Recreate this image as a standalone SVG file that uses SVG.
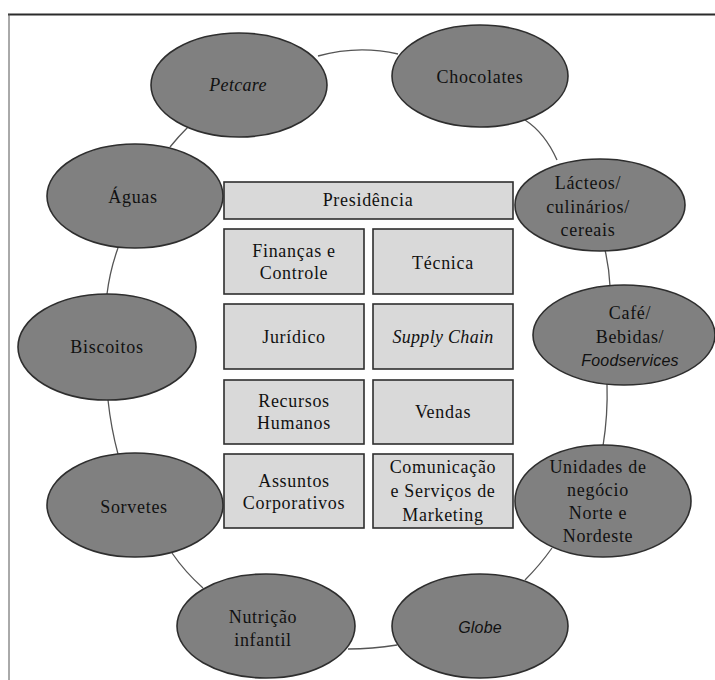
<svg xmlns="http://www.w3.org/2000/svg" width="715" height="680" viewBox="0 0 715 680">
  <style>
    .unit ellipse { fill: #808080; stroke: #2e2e2e; stroke-width: 1.6; }
    .dept rect { fill: #d9d9d9; stroke: #2e2e2e; stroke-width: 1.6; }
    text { font-family: "Liberation Serif", "Times New Roman", serif; font-size: 18px; letter-spacing: 0.7px; fill: #111; text-anchor: middle; }
    .it { font-style: italic; letter-spacing: 0.3px; }
    .sans { font-family: "Liberation Sans", Arial, sans-serif; font-size: 16px; letter-spacing: 0.2px; }
    #connectors path { fill: none; stroke: #555; stroke-width: 1.3; }
  </style>

  <rect width="715" height="680" fill="#ffffff"/>
  <!-- frame -->
  <line x1="8" y1="14.5" x2="715" y2="14.5" stroke="#2b2b2b" stroke-width="2"/>
  <line x1="9" y1="14" x2="9" y2="680" stroke="#555" stroke-width="1"/>

  <g id="connectors">
    <path d="M318,56 Q358,45 398,54"/>
    <path d="M525,120 Q545,133 557,160"/>
    <path d="M605,250 Q609,267 610,286"/>
    <path d="M607,384 Q608,415 603,446"/>
    <path d="M552,548 Q540,565 525,580"/>
    <path d="M397,645 Q372,649 348,649"/>
    <path d="M203,588 Q185,572 172,553"/>
    <path d="M118,454 Q111,428 108,400"/>
    <path d="M107,294 Q110,270 118,248"/>
    <path d="M170,147 Q178,137 188,127"/>
  </g>

  <!-- business units around the ring -->
  <g id="petcare" class="unit">
    <ellipse cx="239" cy="85" rx="88" ry="52"/>
    <text class="it" x="238" y="91">Petcare</text>
  </g>
  <g id="chocolates" class="unit">
    <ellipse cx="480" cy="76" rx="88" ry="51"/>
    <text x="480" y="83">Chocolates</text>
  </g>
  <g id="lacteos" class="unit">
    <ellipse cx="600" cy="205" rx="85" ry="46"/>
    <text x="588" y="189">Lácteos/</text>
    <text x="588" y="213">culinários/</text>
    <text x="588" y="236">cereais</text>
  </g>
  <g id="cafe" class="unit">
    <ellipse cx="624" cy="335" rx="91" ry="50"/>
    <text x="630" y="319">Café/</text>
    <text x="630" y="343">Bebidas/</text>
    <text class="it sans" x="630" y="366">Foodservices</text>
  </g>
  <g id="unidades" class="unit">
    <ellipse cx="603" cy="501" rx="88" ry="56"/>
    <text x="598" y="473">Unidades de</text>
    <text x="598" y="496">negócio</text>
    <text x="598" y="519">Norte e</text>
    <text x="598" y="542">Nordeste</text>
  </g>
  <g id="globe" class="unit">
    <ellipse cx="480" cy="626" rx="88" ry="52"/>
    <text class="it sans" x="480" y="633">Globe</text>
  </g>
  <g id="nutricao" class="unit">
    <ellipse cx="266" cy="626" rx="89" ry="52"/>
    <text x="263" y="623">Nutrição</text>
    <text x="263" y="646">infantil</text>
  </g>
  <g id="sorvetes" class="unit">
    <ellipse cx="135" cy="505" rx="88" ry="52"/>
    <text x="134" y="513">Sorvetes</text>
  </g>
  <g id="biscoitos" class="unit">
    <ellipse cx="107" cy="347" rx="89" ry="53"/>
    <text x="107" y="353">Biscoitos</text>
  </g>
  <g id="aguas" class="unit">
    <ellipse cx="135" cy="196" rx="88" ry="52"/>
    <text x="133" y="203">Águas</text>
  </g>

  <!-- central departments -->
  <g id="presidencia" class="dept">
    <rect x="224" y="182" width="289" height="37"/>
    <text x="368" y="206">Presidência</text>
  </g>
  <g id="financas" class="dept">
    <rect x="224" y="229" width="140" height="65"/>
    <text x="294" y="257">Finanças e</text>
    <text x="294" y="279">Controle</text>
  </g>
  <g id="tecnica" class="dept">
    <rect x="373" y="229" width="140" height="65"/>
    <text x="443" y="269">Técnica</text>
  </g>
  <g id="juridico" class="dept">
    <rect x="224" y="304" width="140" height="65"/>
    <text x="294" y="343">Jurídico</text>
  </g>
  <g id="supply" class="dept">
    <rect x="373" y="304" width="140" height="65"/>
    <text class="it" x="443" y="343">Supply Chain</text>
  </g>
  <g id="rh" class="dept">
    <rect x="224" y="380" width="140" height="64"/>
    <text x="294" y="407">Recursos</text>
    <text x="294" y="429">Humanos</text>
  </g>
  <g id="vendas" class="dept">
    <rect x="373" y="380" width="140" height="64"/>
    <text x="443" y="418">Vendas</text>
  </g>
  <g id="assuntos" class="dept">
    <rect x="224" y="454" width="140" height="74"/>
    <text x="294" y="487">Assuntos</text>
    <text x="294" y="509">Corporativos</text>
  </g>
  <g id="comunicacao" class="dept">
    <rect x="373" y="454" width="140" height="74"/>
    <text x="443" y="473">Comunicação</text>
    <text x="443" y="497">e Serviços de</text>
    <text x="443" y="521">Marketing</text>
  </g>
</svg>
